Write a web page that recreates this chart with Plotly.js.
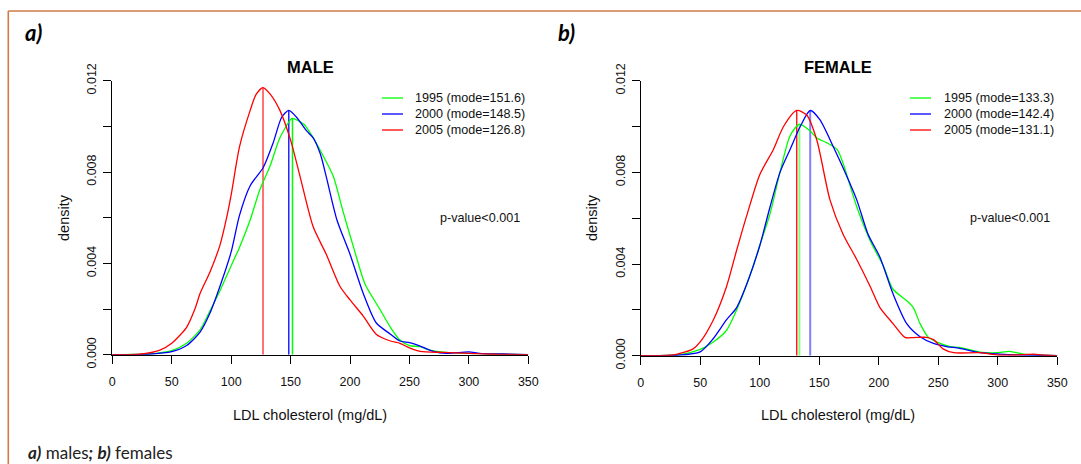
<!DOCTYPE html>
<html><head><meta charset="utf-8">
<script src="https://cdn.plot.ly/plotly-3.0.1.min.js"></script>
<style>html,body{margin:0;padding:0;background:#fff}#chart{width:1081px;height:464px}</style>
</head><body><div id="chart"></div>
<script>
// ---------- data ----------
const years = ['1995', '2000', '2005'];
const seriesColors = ['#00FF00', '#0000FF', '#FF0000'];

const modeMale = [151.6, 148.5, 126.8];
const peakMale = [0.01035, 0.0107, 0.0117];
const modeFemale = [133.3, 142.4, 131.1];
const peakFemale = [0.0101, 0.0107, 0.0107];

const xTicks = [0, 50, 100, 150, 200, 250, 300, 350];
const yTicks = [0, 0.002, 0.004, 0.006, 0.008, 0.010, 0.012];
const yTickText = ['0.000', '', '0.004', '', '0.008', '', '0.012'];

// MALE
const male1995X = [0,30,50,62.5,74,82,90.6,100,107,116,124,133,141,150,151.6,161,169,177.5,186,194,203,212.6,225,234,242,250,259,267,281,300,320,350];
const male1995Y = [0,0.00003,0.00018,0.0005,0.0011,0.0019,0.0028,0.0039,0.0047,0.0059,0.0072,0.0083,0.0095,0.0103,0.01035,0.0101,0.0095,0.0087,0.0078,0.0063,0.0047,0.0031,0.0020,0.0012,0.00064,0.0004,0.00035,0.0002,0.0001,0.00006,0.00003,0];
const male2000X = [0,30,50,62.5,74,82,90.6,100,107,116,127,135.5,142.5,148.5,155,163.5,169,175,180,189,200,211,222,234,242,250,259,270,281,300,309,329,350];
const male2000Y = [0,0.00002,0.00013,0.0004,0.001,0.0018,0.003,0.0045,0.0061,0.0074,0.0082,0.0093,0.0104,0.0107,0.0104,0.0098,0.0095,0.0088,0.0078,0.0059,0.0044,0.0027,0.0014,0.0009,0.0006,0.00053,0.00038,0.00015,0.00006,0.00012,0.00006,0.00003,0];
const male2005X = [0,23,40,50,62.5,69.5,74,82,90.6,96.2,100,107,116,121,126.8,133,141,150,158,169,180,191.5,200,211,222,234,242,250,259,278,300,320,350];
const male2005Y = [0,0.00002,0.0002,0.0005,0.0012,0.002,0.0027,0.0036,0.0048,0.006,0.0070,0.0091,0.0107,0.0114,0.0117,0.0114,0.0107,0.0094,0.0078,0.0056,0.0044,0.0030,0.0024,0.0017,0.0009,0.0006,0.0005,0.0003,0.00015,0.0001,0.00006,0.00002,0];

// FEMALE
const female1995X = [0,30,50,61,72,80.6,90.4,100,108.7,117,125.5,133.3,142.4,148,156,165,170,181.5,193,204,212,223.5,229,234.7,241.7,250,260,268,285,299,310,321.5,335,350];
const female1995Y = [0,0.00003,0.00028,0.0006,0.0011,0.002,0.0033,0.0048,0.0062,0.0080,0.0096,0.0101,0.0098,0.0095,0.0093,0.0090,0.0084,0.0065,0.0050,0.0039,0.0029,0.0024,0.0021,0.0014,0.0008,0.00057,0.0004,0.00036,0.00016,0.00013,0.00019,0.00007,0.00002,0];
const female2000X = [0,30,50,61,72,80.6,90.4,100,108.7,117,125.5,134,142.4,150.5,162,170,181.5,191,201,212,223.5,234.7,246,257,268,285,302,321,350];
const female2000Y = [0,0.00002,0.00017,0.00075,0.00156,0.0021,0.0033,0.0048,0.0065,0.0080,0.0090,0.0100,0.0107,0.0103,0.0091,0.0082,0.0068,0.0053,0.0043,0.0027,0.0014,0.00083,0.00054,0.0004,0.00032,0.00013,0.00007,0.00003,0];
const female2005X = [0,25,33,44,50,61,72,80.6,89,100,111.5,120,131.1,139.5,148,159,170,181.5,193,201,212,222,229,240,246,254,263,285,300,315,330,340,350];
const female2005Y = [0,0.00002,0.0001,0.0003,0.0006,0.00156,0.003,0.0046,0.0061,0.0079,0.009,0.0100,0.0107,0.0105,0.0094,0.0068,0.0053,0.0042,0.0030,0.0021,0.0014,0.0008,0.00079,0.0008,0.0007,0.0003,0.00013,0.00013,0.00003,0.00003,0.00007,0.00002,0];

const pText = 'p-value<0.001';
const panelTitles = ['MALE', 'FEMALE'];
const panelLetters = ['a)', 'b)'];
const xTitle = 'LDL cholesterol (mg/dL)';
const yTitle = 'density';

// ---------- build ----------
const W = 1081, H = 464;
const px = v => v / W;
const py = v => 1 - v / H;
const FONT = 'Liberation Sans, Arial, sans-serif';

const maleCurves = [[male1995X, male1995Y], [male2000X, male2000Y], [male2005X, male2005Y]];
const femaleCurves = [[female1995X, female1995Y], [female2000X, female2000Y], [female2005X, female2005Y]];

const traces = [];
function addCurves(curves, xa, ya) {
  curves.forEach((c, i) => traces.push({
    type: 'scatter', mode: 'lines', x: c[0], y: c[1], xaxis: xa, yaxis: ya,
    line: {color: seriesColors[i], width: 1.3, shape: 'spline', smoothing: 0.7},
    hoverinfo: 'skip', showlegend: false
  }));
}
const maleVStyle = [{c: '#00FF00', w: 1.5}, {c: '#0000FF', w: 1.3}, {c: 'rgba(255,0,0,0.55)', w: 2}];
const femVStyle = [{c: 'rgba(0,255,0,0.5)', w: 2}, {c: 'rgba(0,0,255,0.5)', w: 2}, {c: '#FF0000', w: 1.3}];
function addModes(modes, peaks, styles, xa, ya) {
  modes.forEach((m, i) => traces.push({
    type: 'scatter', mode: 'lines', x: [m, m], y: [0, peaks[i]], xaxis: xa, yaxis: ya,
    line: {color: styles[i].c, width: styles[i].w}, hoverinfo: 'skip', showlegend: false
  }));
}
addModes(modeMale, peakMale, maleVStyle, 'x', 'y');
addModes(modeFemale, peakFemale, femVStyle, 'x2', 'y2');
addCurves(maleCurves, 'x', 'y');
addCurves(femaleCurves, 'x2', 'y2');

function xaxis(domain, anchor) {
  return {domain: domain, anchor: anchor, range: [0, 350], tickvals: xTicks, ticktext: xTicks.map(String),
    ticks: 'outside', ticklen: 8, tickcolor: '#000', tickwidth: 1, showline: true, linecolor: '#000', linewidth: 1,
    showgrid: false, zeroline: false, tickfont: {family: FONT, size: 12.5, color: '#111'}, ticklabelstandoff: 7, fixedrange: true};
}
function yaxis(domain, anchor) {
  return {domain: domain, anchor: anchor, range: [0, 0.012], tickvals: yTicks, ticktext: yTickText, tickangle: -90,
    ticks: 'outside', ticklen: 8, tickcolor: '#000', tickwidth: 1, showline: true, linecolor: '#000', linewidth: 1,
    showgrid: false, zeroline: false, tickfont: {family: FONT, size: 12.5, color: '#111'}, ticklabelstandoff: 2, fixedrange: true};
}

const panels = [
  {x0: 112.3, x1: 528.3, y0: 354.7, y1: 80.7, titleX: 310, letterX: 33, legLine: 382, legText: 412.7, pRight: 521.7, yTitleX: 64, modes: modeMale},
  {x0: 640.7, x1: 1057.3, y0: 355.7, y1: 80.7, titleX: 838, letterX: 566, legLine: 910, legText: 941.7, pRight: 1051.7, yTitleX: 592, modes: modeFemale}
];

const annotations = [], shapes = [];
const legRows = [98, 114, 130];
panels.forEach((p, k) => {
  annotations.push({xref: 'paper', yref: 'paper', x: px(p.titleX), y: py(67), text: '<b>' + panelTitles[k] + '</b>',
    showarrow: false, xanchor: 'center', yanchor: 'middle', font: {family: FONT, size: 16.5, color: '#000'}});
  annotations.push({xref: 'paper', yref: 'paper', x: px(p.letterX), y: py(32), text: '<b><i>' + panelLetters[k] + '</i></b>',
    showarrow: false, xanchor: 'center', yanchor: 'middle', font: {family: 'Lato, Open Sans, sans-serif', size: 22, color: '#000'}});
  annotations.push({xref: 'paper', yref: 'paper', x: px(p.titleX), y: py(415), text: xTitle,
    showarrow: false, xanchor: 'center', yanchor: 'middle', font: {family: FONT, size: 14.5, color: '#111'}});
  annotations.push({xref: 'paper', yref: 'paper', x: px(p.yTitleX), y: py(218), text: yTitle, textangle: -90,
    showarrow: false, xanchor: 'center', yanchor: 'middle', font: {family: FONT, size: 14.5, color: '#111'}});
  annotations.push({xref: 'paper', yref: 'paper', x: px(p.pRight), y: py(218), text: pText,
    showarrow: false, xanchor: 'right', yanchor: 'middle', font: {family: FONT, size: 12.6, color: '#111'}});
  years.forEach((yr, i) => {
    annotations.push({xref: 'paper', yref: 'paper', x: px(p.legText), y: py(legRows[i]),
      text: yr + ' (mode=' + p.modes[i].toFixed(1) + ')', showarrow: false, xanchor: 'left', yanchor: 'middle',
      font: {family: FONT, size: 12.6, color: '#111'}});
    shapes.push({type: 'line', xref: 'paper', yref: 'paper', x0: px(p.legLine), x1: px(p.legLine + 21),
      y0: py(legRows[i]), y1: py(legRows[i]), line: {color: seriesColors[i], width: 1.3}});
  });
});

// caption at the bottom edge
annotations.push({xref: 'paper', yref: 'paper', x: px(27), y: 0, xanchor: 'left', yanchor: 'bottom', showarrow: false,
  borderpad: 0, text: '<b><i>a)</i></b> males<b><i>;</i></b> <b><i>b)</i></b> females', font: {family: 'Lato, Open Sans, sans-serif', size: 17, color: '#222'}});

// frame
shapes.push({type: 'line', xref: 'paper', yref: 'paper', x0: px(8.3), x1: 1, y0: py(11), y1: py(11), line: {color: '#CF7A48', width: 1.6}});
shapes.push({type: 'line', xref: 'paper', yref: 'paper', x0: px(8.3), x1: px(8.3), y0: py(11), y1: 0, line: {color: '#CF7A48', width: 1.6}});

const layout = {
  width: W, height: H, margin: {l: 0, r: 0, t: 0, b: 0}, paper_bgcolor: '#fff', plot_bgcolor: 'rgba(0,0,0,0)',
  showlegend: false,
  xaxis: xaxis([px(panels[0].x0), px(panels[0].x1)], 'y'),
  yaxis: yaxis([py(panels[0].y0), py(panels[0].y1)], 'x'),
  xaxis2: xaxis([px(panels[1].x0), px(panels[1].x1)], 'y2'),
  yaxis2: yaxis([py(panels[1].y0), py(panels[1].y1)], 'x2'),
  annotations: annotations, shapes: shapes
};
Plotly.newPlot('chart', traces, layout, {staticPlot: true, displayModeBar: false});
</script></body></html>
